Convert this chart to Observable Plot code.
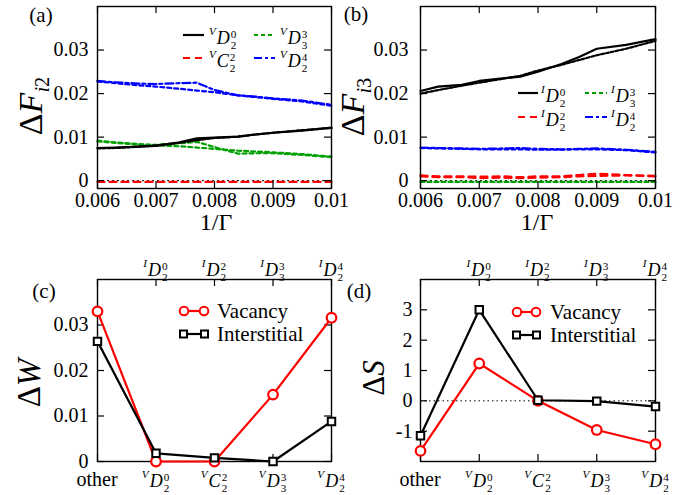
<!DOCTYPE html>
<html><head><meta charset="utf-8">
<script src="https://cdn.jsdelivr.net/npm/d3@7"></script>
<script src="https://cdn.jsdelivr.net/npm/@observablehq/plot@0.6"></script>
<style>
body{margin:0;background:#fff}
#root{position:relative;width:695px;height:495px;overflow:hidden;color:#000;background:#fff;font-family:"Liberation Serif","Times New Roman",serif}
.plot{position:absolute}
.abs{position:absolute;white-space:nowrap;line-height:1}
.c{transform:translate(-50%,-50%)}
.l{transform:translate(0,-50%)}
.rot{transform:translate(-50%,-50%) rotate(-90deg)}
.m{display:inline-flex;align-items:center;line-height:1}
.m .pre{font-style:italic;font-size:0.62em;align-self:flex-start;margin-top:-0.12em;margin-right:1px}
.m .b{font-style:italic}
.m .ss{display:inline-flex;flex-direction:column;font-size:0.62em;line-height:1.0;margin-left:1px;transform:translateY(0.12em)}
.sub{font-size:0.6em;position:relative;top:0.35em}
.smp{position:absolute;overflow:visible}
</style></head><body><div id="root"></div>
<script>
// ---------------- data ----------------
const invGamma = [0.006,0.0063,0.0067,0.007,0.0074,0.0077,0.008,0.0084,0.0087,0.009,0.0095,0.01];
// panel (a): vacancy
const vD20  = [0.0075,0.0076,0.0078,0.0080,0.0088,0.0097,0.0099,0.0101,0.0106,0.0110,0.0115,0.0122];
const vD20b = [0.0074,0.0075,0.0078,0.0081,0.0087,0.0093,0.0098,0.0101,0.0106,0.0110,0.0116,0.0121];
const vC22  = [-0.0003,-0.0003,-0.0003,-0.0003,-0.0003,-0.0003,-0.0003,-0.0003,-0.0003,-0.0003,-0.0003,-0.0003];
const vD33  = [0.0092,0.0088,0.0084,0.0082,0.0086,0.0089,0.0077,0.0062,0.0063,0.0063,0.0059,0.0054];
const vD33b = [0.0090,0.0087,0.0083,0.0081,0.0079,0.0076,0.0073,0.0069,0.0067,0.0065,0.0061,0.0055];
const vD24  = [0.0229,0.0226,0.0223,0.0222,0.0224,0.0225,0.0208,0.0196,0.0193,0.0189,0.0184,0.0174];
const vD24b = [0.0228,0.0224,0.0219,0.0216,0.0211,0.0207,0.0203,0.0196,0.0192,0.0188,0.0182,0.0172];
// panel (b): interstitial
const iD20  = [0.0206,0.0216,0.0220,0.0229,0.0235,0.0239,0.0250,0.0268,0.0284,0.0303,0.0312,0.0325];
const iD20b = [0.0200,0.0208,0.0218,0.0225,0.0234,0.0241,0.0253,0.0266,0.0277,0.0288,0.0303,0.0321];
const iD22  = [0.0012,0.0010,0.0010,0.0009,0.0010,0.0008,0.0010,0.0010,0.0013,0.0016,0.0013,0.0011];
const iD22b = [0.0010,0.0008,0.0008,0.0006,0.0007,0.0006,0.0007,0.0008,0.0010,0.0011,0.0012,0.0010];
const iD33  = [-0.0003,-0.0003,-0.0003,-0.0003,-0.0003,-0.0003,-0.0003,-0.0003,-0.0003,-0.0003,-0.0003,-0.0003];
const iD24  = [0.0076,0.0075,0.0074,0.0073,0.0074,0.0075,0.0073,0.0072,0.0073,0.0074,0.0071,0.0066];
const iD24b = [0.0075,0.0074,0.0073,0.0072,0.0072,0.0072,0.0071,0.0071,0.0072,0.0072,0.0070,0.0065];
// panels (c), (d)
const catIndex = [0,1,2,3,4];
const bottomLabels = ["other", ["V","D","0","2"], ["V","C","2","2"], ["V","D","3","3"], ["V","D","4","2"]];
const topLabels = [null, ["I","D","0","2"], ["I","D","2","2"], ["I","D","3","3"], ["I","D","4","2"]];
const wVacancy      = [0.0330, 0.0000, 0.0000, 0.0147, 0.0316];
const wInterstitial = [0.0264, 0.0018, 0.0008, 0.0000, 0.0088];
const sVacancy      = [-1.65, 1.23, 0.00, -0.96, -1.43];
const sInterstitial = [-1.15, 3.00, 0.02, -0.01, -0.19];
// ticks
const xTicksAB = [0.006,0.007,0.008,0.009,0.01];
const yTicksAB = [0,0.01,0.02,0.03];
const yTicksC = [0,0.01,0.02,0.03];
const yTicksD = [-1,0,1,2,3];

// ---------------- helpers ----------------
const root = document.getElementById("root");
const SERIF = '"Liberation Serif", "Times New Roman", serif';
const RED = "#ff0000", GREEN = "#00a000", BLUE = "#0000ff", BLACK = "#000000";

function mathHTML(l) {
  if (typeof l === "string") return l;
  const [pre, base, sup, sub] = l;
  return `<span class="m"><span class="pre">${pre}</span><span class="b">${base}</span><span class="ss"><span>${sup}</span><span>${sub}</span></span></span>`;
}
function put(html, x, y, size, cls = "c") {
  const d = document.createElement("div");
  d.className = "abs " + cls;
  d.style.left = x + "px"; d.style.top = y + "px"; d.style.fontSize = size + "px";
  d.style.fontFamily = SERIF;
  d.innerHTML = html;
  root.appendChild(d);
  return d;
}
function sample(x1, x2, y, color, dash, marker) {
  const ns = "http://www.w3.org/2000/svg";
  const s = document.createElementNS(ns, "svg");
  s.setAttribute("class", "smp");
  s.setAttribute("width", x2 - x1 + 12); s.setAttribute("height", 14);
  s.style.left = (x1 - 6) + "px"; s.style.top = (y - 7) + "px";
  let inner = `<line x1="6" x2="${x2 - x1 + 6}" y1="7" y2="7" stroke="${color}" stroke-width="2.2" ${dash ? `stroke-dasharray="${dash}"` : ""}/>`;
  if (marker === "circle") {
    inner += `<circle cx="${6 + 4}" cy="7" r="4.3" fill="white" stroke="${color}" stroke-width="2"/><circle cx="${x2 - x1 + 2}" cy="7" r="4.3" fill="white" stroke="${color}" stroke-width="2"/>`;
  } else if (marker === "square") {
    inner += `<rect x="${6}" y="3.5" width="7" height="7" fill="white" stroke="${color}" stroke-width="2"/><rect x="${x2 - x1 - 1}" y="3.5" width="7" height="7" fill="white" stroke="${color}" stroke-width="2"/>`;
  }
  s.innerHTML = inner;
  root.appendChild(s);
}
function insetTicks(xt, yt, W, H, ml, mr, mt, mb, len = 7) {
  const pw = W - ml - mr, ph = H - mt - mb;
  return [
    Plot.tickX(xt, {x: d => d, insetTop: ph - len, stroke: BLACK, strokeWidth: 1.2}),
    Plot.tickX(xt, {x: d => d, insetBottom: ph - len, stroke: BLACK, strokeWidth: 1.2}),
    Plot.tickY(yt, {y: d => d, insetRight: pw - len, stroke: BLACK, strokeWidth: 1.2}),
    Plot.tickY(yt, {y: d => d, insetLeft: pw - len, stroke: BLACK, strokeWidth: 1.2})
  ];
}
function place(svg, left, top) {
  svg.classList.add("plot");
  svg.style.left = left + "px"; svg.style.top = top + "px";
  root.appendChild(svg);
  return svg;
}

// ---------------- panels (a), (b) ----------------
function linePanel(o) {
  const {left, top, W, H, ml, mr, mt, mb, series, yPad} = o;
  const marks = [
    Plot.ruleY([0], {stroke: BLACK, strokeWidth: 1, strokeDasharray: "2,3"}),
    ...series.map(s => Plot.line(invGamma.map((x, i) => ({x, y: s.values[i]})),
      {x: "x", y: "y", stroke: s.color, strokeWidth: 2.2, strokeDasharray: s.dash || null})),
    Plot.frame({stroke: BLACK, strokeWidth: 1.4}),
    ...insetTicks(xTicksAB, yTicksAB, W, H, ml, mr, mt, mb),
    Plot.axisX(xTicksAB, {anchor: "bottom", tickSize: 0, tickPadding: 4, fontSize: 20, label: null,
      tickFormat: d => d === 0.01 ? "0.01" : d.toFixed(3)}),
    Plot.axisY(yTicksAB, {anchor: "left", tickSize: 0, tickPadding: yPad, fontSize: 20, label: null,
      tickFormat: d => d === 0 ? "0" : d.toFixed(2)})
  ];
  const svg = Plot.plot({
    width: W, height: H, marginLeft: ml, marginRight: mr, marginTop: mt, marginBottom: mb,
    x: {domain: [0.006, 0.01]}, y: {domain: [-0.0018, 0.04]},
    style: {fontFamily: SERIF, background: "transparent", color: BLACK, overflow: "visible"},
    marks
  });
  return place(svg, left, top);
}

linePanel({left: 0, top: 0, W: 347, H: 240, ml: 97, mr: 16, mt: 6, mb: 52, yPad: 9, series: [
  {values: vC22, color: RED, dash: "7,5"},
  {values: vD33b, color: GREEN, dash: "4,3"},
  {values: vD33, color: GREEN, dash: "4,3"},
  {values: vD24b, color: BLUE, dash: "4,3"},
  {values: vD24, color: BLUE, dash: "8,3,3,3"},
  {values: vD20b, color: BLACK, dash: "3,2"},
  {values: vD20, color: BLACK}
]});
linePanel({left: 347, top: 0, W: 348, H: 240, ml: 73, mr: 40, mt: 6, mb: 52, yPad: 12, series: [
  {values: iD33, color: GREEN, dash: "4,3"},
  {values: iD22b, color: RED, dash: "7,5"},
  {values: iD22, color: RED, dash: "7,5"},
  {values: iD24b, color: BLUE, dash: "4,3"},
  {values: iD24, color: BLUE, dash: "8,3,3,3"},
  {values: iD20b, color: BLACK, dash: "3,2"},
  {values: iD20, color: BLACK}
]});

// ---------------- panels (c), (d) ----------------
function catPanel(o) {
  const {left, top, W, H, ml, mr, mt, mb, vac, inter, yDomain, yTicks, yFmt, yPad, zero} = o;
  const marks = [
    zero ? Plot.ruleY([0], {stroke: BLACK, strokeWidth: 1, strokeDasharray: "1.5,3"}) : null,
    Plot.frame({stroke: BLACK, strokeWidth: 1.4}),
    ...insetTicks(catIndex, yTicks, W, H, ml, mr, mt, mb),
    Plot.line(catIndex, {x: i => i, y: i => vac[i], stroke: RED, strokeWidth: 2.2}),
    Plot.dot(catIndex, {x: i => i, y: i => vac[i], r: 4.8, stroke: RED, strokeWidth: 2.2, fill: "white"}),
    Plot.line(catIndex, {x: i => i, y: i => inter[i], stroke: BLACK, strokeWidth: 2.2}),
    Plot.dot(catIndex, {x: i => i, y: i => inter[i], r: 4.2, symbol: "square", stroke: BLACK, strokeWidth: 2, fill: "white"}),
    Plot.axisY(yTicks, {anchor: "left", tickSize: 0, tickPadding: yPad, fontSize: 20, label: null, tickFormat: yFmt})
  ];
  const svg = Plot.plot({
    width: W, height: H, marginLeft: ml, marginRight: mr, marginTop: mt, marginBottom: mb,
    x: {domain: [0, 4], axis: null}, y: {domain: yDomain},
    style: {fontFamily: SERIF, background: "transparent", color: BLACK, overflow: "visible"},
    marks
  });
  place(svg, left, top);
  const sx = svg.scale("x");
  catIndex.forEach(i => {
    const x = left + sx.apply(i);
    put(mathHTML(bottomLabels[i]), x, top + H - mb + (i === 0 ? 18 : 17), i === 0 ? 20 : 18);
    if (topLabels[i]) put(mathHTML(topLabels[i]), x, top + mt - 12, 18);
  });
  return svg;
}

catPanel({left: 0, top: 240, W: 347, H: 255, ml: 97, mr: 16, mt: 39, mb: 34,
  vac: wVacancy, inter: wInterstitial, yDomain: [0, 0.04], yTicks: yTicksC, yPad: 9,
  yFmt: d => d === 0 ? "0" : d.toFixed(2), zero: false});
catPanel({left: 347, top: 240, W: 348, H: 255, ml: 73, mr: 40, mt: 39, mb: 34,
  vac: sVacancy, inter: sInterstitial, yDomain: [-2, 4], yTicks: yTicksD, yPad: 8,
  yFmt: d => String(d), zero: true});

// ---------------- text: panel labels, axis titles ----------------
put("(a)", 41, 15, 21);
put("(b)", 356, 14, 21);
put("(c)", 44, 291, 21);
put("(d)", 359, 291, 21);
put('Δ<i>F</i><span class="sub"><i>i</i>2</span>', 31, 106, 34, "rot");
put('Δ<i>F</i><span class="sub"><i>i</i>3</span>', 353, 107, 34, "rot");
put('Δ<i>W</i>', 29, 383, 33, "rot");
put('Δ<i>S</i>', 373, 378, 31, "rot");
put('1/Γ', 216, 222, 24);
put('1/Γ', 537, 222, 24);

// ---------------- legends ----------------
sample(183, 204, 35, BLACK, null);
put(mathHTML(["V","D","0","2"]), 209, 35, 18, "l");
sample(254, 275, 35, GREEN, "4,3");
put(mathHTML(["V","D","3","3"]), 280, 35, 18, "l");
sample(183, 204, 58, RED, "7,5");
put(mathHTML(["V","C","2","2"]), 209, 58, 18, "l");
sample(254, 275, 58, BLUE, "8,3,3,3");
put(mathHTML(["V","D","4","2"]), 280, 58, 18, "l");

sample(518, 538, 93, BLACK, null);
put(mathHTML(["I","D","0","2"]), 541, 93, 18, "l");
sample(585, 607, 93, GREEN, "4,3");
put(mathHTML(["I","D","3","3"]), 611, 93, 18, "l");
sample(518, 538, 117, RED, "7,5");
put(mathHTML(["I","D","2","2"]), 541, 117, 18, "l");
sample(585, 607, 117, BLUE, "8,3,3,3");
put(mathHTML(["I","D","4","2"]), 611, 117, 18, "l");

sample(180, 208, 311, RED, null, "circle");
put("Vacancy", 217, 311, 21, "l");
sample(180, 208, 334, BLACK, null, "square");
put("Interstitial", 217, 334, 21, "l");
sample(513, 540, 312, RED, null, "circle");
put("Vacancy", 550, 312, 21, "l");
sample(513, 540, 335, BLACK, null, "square");
put("Interstitial", 550, 335, 21, "l");
</script></body></html>
